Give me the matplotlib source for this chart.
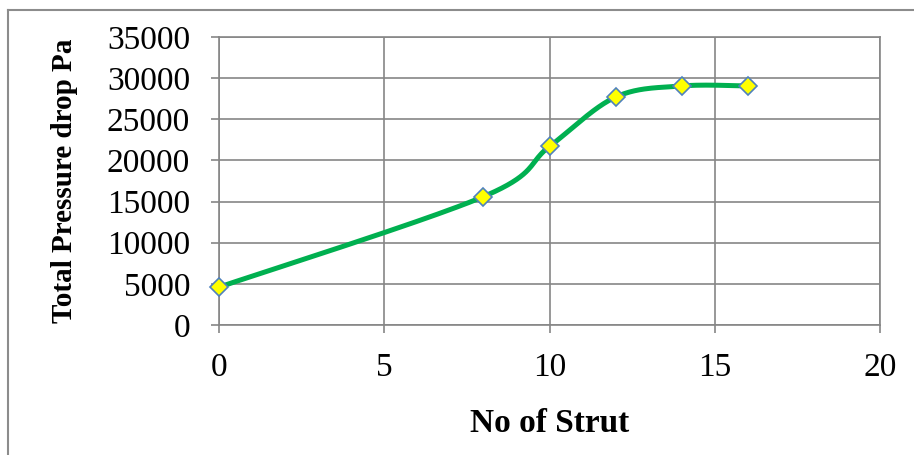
import matplotlib.pyplot as plt
import matplotlib.lines as mlines
import numpy as np

# data
struts = [0, 8, 10, 12, 14, 16]
pressure = [4600, 15600, 21700, 27700, 29050, 29050]

x_ticks = [0, 5, 10, 15, 20]
y_ticks = [0, 5000, 10000, 15000, 20000, 25000, 30000, 35000]

plt.rcParams['font.family'] = ['Liberation Serif', 'DejaVu Serif']

grid_col = '#868686'
line_col = '#00B050'


# smooth line like the spreadsheet one (Catmull-Rom through the points)
def smooth(xs, ys, n=40):
    p = np.column_stack([xs, ys]).astype(float)
    out = []
    for i in range(len(p) - 1):
        p0 = p[i - 1] if i > 0 else p[i]
        p1 = p[i]
        p2 = p[i + 1]
        p3 = p[i + 2] if i + 2 < len(p) else p[i + 1]
        c1 = p1 + (p2 - p0) / 6.0
        c2 = p2 - (p3 - p1) / 6.0
        t = np.linspace(0, 1, n)[:, None]
        seg = (1 - t) ** 3 * p1 + 3 * (1 - t) ** 2 * t * c1 + 3 * (1 - t) * t ** 2 * c2 + t ** 3 * p2
        out.append(seg if i == 0 else seg[1:])
    out = np.vstack(out)
    return out[:, 0], out[:, 1]


fig = plt.figure(figsize=(9.14, 4.55), dpi=100)
ax = fig.add_axes([219 / 914, 1 - 325 / 455, (880 - 219) / 914, (325 - 37) / 455])

sx, sy = smooth(struts, pressure)
ax.plot(sx, sy, color=line_col, lw=3.6, solid_capstyle='round', zorder=3, clip_on=False)
ax.plot(struts, pressure, ls='none', marker='D', ms=9, mfc='#FFFF00',
        mec='#4F81BD', mew=1.2, zorder=4, clip_on=False)

ax.set_xlim(0, 20)
ax.set_ylim(0, 35000)
ax.set_xticks(x_ticks)
ax.set_yticks(y_ticks)
ax.grid(True, color=grid_col, lw=1.2)
ax.set_axisbelow(True)
for s in ax.spines.values():
    s.set_color(grid_col)
    s.set_linewidth(1.2)

ax.tick_params(axis='both', direction='out', length=5.8, width=1.2, color=grid_col)
ax.tick_params(axis='x', labelsize=24, pad=14)
ax.tick_params(axis='y', labelsize=24, pad=15)

ax.set_xlabel('No of Strut', fontsize=24, fontweight='bold', labelpad=18)
ax.set_ylabel('Total Pressure drop Pa', fontsize=21, fontweight='bold')
ax.yaxis.set_label_coords(-(219 - 78) / 661, 0.5)

# outer chart border (only top and left are visible in the frame)
fig.add_artist(mlines.Line2D([8 / 914, 1.0], [1 - 10 / 455, 1 - 10 / 455],
                             transform=fig.transFigure, color='#8c8c8c', lw=1.5))
fig.add_artist(mlines.Line2D([8 / 914, 8 / 914], [0.0, 1 - 10 / 455],
                             transform=fig.transFigure, color='#8c8c8c', lw=1.5))

fig.savefig('out.png', dpi=100)
